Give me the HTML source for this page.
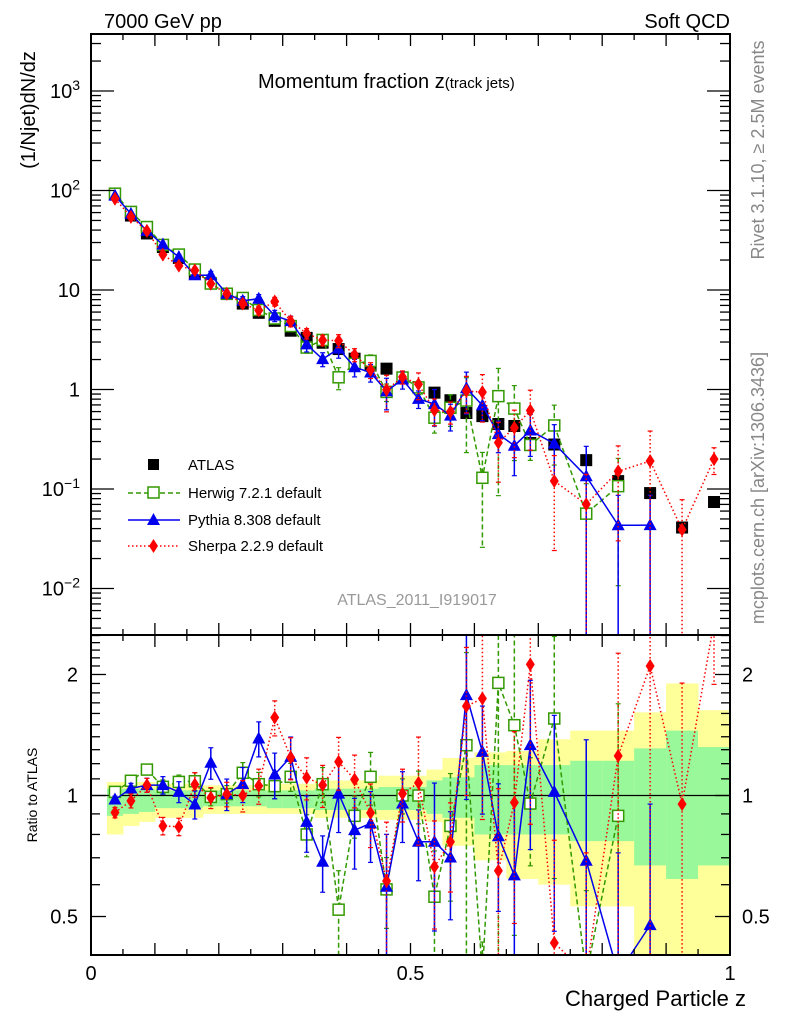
<!DOCTYPE html>
<html><head><meta charset="utf-8"><style>
html,body{margin:0;padding:0;background:#fff;width:786px;height:1024px;overflow:hidden;}
svg{display:block;font-family:"Liberation Sans",sans-serif;}
</style></head><body>
<svg id="chart" width="786" height="1024" viewBox="0 0 786 1024" xmlns="http://www.w3.org/2000/svg">
<defs>
<clipPath id="cm"><rect x="91" y="34" width="639" height="601"/></clipPath>
<clipPath id="cr"><rect x="91" y="635" width="639" height="320"/></clipPath>
</defs>
<g id="bands" clip-path="url(#cr)"></g>
<g id="mainmarks" clip-path="url(#cm)"></g>
<g id="ratiomarks" clip-path="url(#cr)"></g>
<g id="axes"></g>
<text x="104" y="28" font-size="20">7000 GeV pp</text>
<text x="730" y="28" font-size="20" text-anchor="end">Soft QCD</text>
<text x="258" y="88" font-size="20">Momentum fraction z<tspan font-size="15">(track jets)</tspan></text>
<text transform="translate(35,110) rotate(-90)" font-size="20" text-anchor="middle">(1/Njet)dN/dz</text>
<text transform="translate(37,795) rotate(-90)" font-size="14" text-anchor="middle">Ratio to ATLAS</text>
<text x="746" y="1006" font-size="22" text-anchor="end">Charged Particle z</text>
<text transform="translate(764,150) rotate(-90)" font-size="18" fill="#888" text-anchor="middle">Rivet 3.1.10, ≥ 2.5M events</text>
<text transform="translate(764,488) rotate(-90)" font-size="18" fill="#888" text-anchor="middle">mcplots.cern.ch [arXiv:1306.3436]</text>
<text x="417" y="605" font-size="16" fill="#999" text-anchor="middle">ATLAS_2011_I919017</text>
<g id="legend">
<rect x="148" y="459" width="11" height="11" fill="#000"/>
<text x="188" y="470" font-size="15">ATLAS</text>
<line x1="128" y1="493" x2="180" y2="493" stroke="#339900" stroke-width="1.5" stroke-dasharray="5,3"/>
<rect x="148" y="487" width="11" height="11" fill="#fff" stroke="#339900" stroke-width="1.5"/>
<text x="188" y="498" font-size="15">Herwig 7.2.1 default</text>
<line x1="128" y1="520" x2="180" y2="520" stroke="#0000ee" stroke-width="1.5"/>
<polygon points="153.5,513 160,525 147,525" fill="#0000ee"/>
<text x="188" y="525" font-size="15">Pythia 8.308 default</text>
<line x1="128" y1="546" x2="180" y2="546" stroke="#ff0000" stroke-width="1.5" stroke-dasharray="1.5,2.5"/>
<polygon points="153.5,539 158,546 153.5,553 149,546" fill="#ff0000"/>
<text x="188" y="551" font-size="15">Sherpa 2.2.9 default</text>
</g>
</svg>
<script>
const binCenters=[0.0375,0.0625,0.0875,0.1125,0.1375,0.1625,0.1875,0.2125,0.2375,0.2625,0.2875,0.3125,0.3375,0.3625,0.3875,0.4125,0.4375,0.4625,0.4875,0.5125,0.5375,0.5625,0.5875,0.6125,0.6375,0.6625,0.6875,0.725,0.775,0.825,0.875,0.925,0.975];
const binHalfWidths=[0.0125,0.0125,0.0125,0.0125,0.0125,0.0125,0.0125,0.0125,0.0125,0.0125,0.0125,0.0125,0.0125,0.0125,0.0125,0.0125,0.0125,0.0125,0.0125,0.0125,0.0125,0.0125,0.0125,0.0125,0.0125,0.0125,0.0125,0.025,0.025,0.025,0.025,0.025,0.025];
const atlasValues=[91,56,37,27,21,14.8,11.7,9.1,7.3,5.9,4.9,3.9,3.3,2.95,2.55,2.04,1.74,1.62,1.32,1.05,0.93,0.78,0.58,0.54,0.45,0.43,0.29,0.28,0.195,0.12,0.091,0.041,0.074];
const yellowUp=[1.08,1.08,1.08,1.07,1.07,1.07,1.06,1.06,1.06,1.06,1.07,1.07,1.07,1.09,1.09,1.09,1.09,1.12,1.12,1.12,1.16,1.24,1.24,1.28,1.28,1.29,1.29,1.38,1.45,1.45,1.61,1.9,1.63];
const yellowDn=[0.80,0.84,0.86,0.88,0.88,0.88,0.90,0.90,0.90,0.90,0.90,0.90,0.90,0.88,0.88,0.88,0.88,0.87,0.87,0.87,0.86,0.75,0.75,0.69,0.69,0.62,0.62,0.60,0.53,0.53,0.3,0.3,0.3];
const greenUp=[1.04,1.04,1.04,1.03,1.03,1.03,1.03,1.03,1.03,1.03,1.03,1.03,1.03,1.04,1.04,1.04,1.04,1.05,1.05,1.05,1.09,1.11,1.11,1.19,1.19,1.19,1.19,1.19,1.22,1.22,1.31,1.45,1.32];
const greenDn=[0.89,0.90,0.91,0.93,0.93,0.93,0.94,0.94,0.94,0.94,0.93,0.93,0.93,0.92,0.92,0.92,0.92,0.92,0.92,0.92,0.90,0.88,0.88,0.80,0.80,0.80,0.80,0.80,0.77,0.77,0.67,0.62,0.67];
const herwigRatio=[1.021,1.088,1.16,1.051,1.081,1.085,0.992,1.008,1.139,1.067,1.055,1.113,0.80,1.067,0.52,0.89,1.113,0.584,1.0,1.0,0.56,0.84,1.334,0.24,1.906,1.496,0.955,1.554,0.29,0.89,null,null,null];
const pythiaRatio=[0.977,1.041,1.061,1.061,1.021,0.950,1.206,1.008,1.067,1.386,1.128,1.248,0.860,0.684,1.011,0.820,0.852,0.593,0.955,0.767,0.767,0.701,1.777,1.284,0.792,0.633,1.334,1.021,0.688,0.36,0.476,null,null];
const sherpaRatio=[0.907,0.970,1.061,0.840,0.836,1.065,0.987,1.008,1.0,1.057,1.563,1.243,1.108,1.061,1.213,1.096,0.905,0.613,1.011,1.075,0.665,0.767,1.668,1.743,0.65,0.961,2.12,0.43,0.36,1.255,2.1,0.952,2.7];
const herwigErr=[0.02,0.03,0.03,0.04,0.04,0.05,0.05,0.05,0.06,0.07,0.07,0.08,0.12,0.1,0.25,0.12,0.15,0.2,0.1,0.15,0.3,0.35,0.7,0.8,0.9,0.7,0.3,0.6,1,0.9,0,0,0];
const pythiaErr=[0.02,0.03,0.04,0.05,0.06,0.08,0.09,0.09,0.1,0.1,0.13,0.12,0.16,0.16,0.2,0.2,0.2,0.35,0.2,0.2,0.4,0.3,0.45,0.3,0.35,0.5,0.45,0.55,1,1,1,0,0];
const sherpaErr=[0.03,0.04,0.04,0.05,0.05,0.07,0.06,0.07,0.09,0.1,0.1,0.12,0.12,0.12,0.15,0.15,0.18,0.4,0.15,0.3,0.3,0.25,0.4,0.5,0.6,0.5,0.6,0.8,1,0.8,1,1,0.3];
const mainTickLabels=["10⁻²","10⁻¹","1","10","10²","10³"];
const ratioTickLabels=["0.5","1","2"];
const xTickLabels=["0","0.5","1"];

const NS="http://www.w3.org/2000/svg";
const X0=91,X1=730,MT=34,MB=635,RB=955;
function xs(z){return X0+z*(X1-X0);}
function ym(v){return 389.5-99.5*Math.log10(v);}
function yr(r){return 795.5-402*Math.log10(r);}
function mk(parent,tag,attrs){const e=document.createElementNS(NS,tag);for(const k in attrs)e.setAttribute(k,attrs[k]);parent.appendChild(e);return e;}
const axes=document.getElementById('axes');
const bands=document.getElementById('bands');
const mm=document.getElementById('mainmarks');
const rm=document.getElementById('ratiomarks');

for(let i=0;i<binCenters.length;i++){
  const xa=xs(binCenters[i]-binHalfWidths[i]),xb=xs(binCenters[i]+binHalfWidths[i]);
  const yu=yr(yellowUp[i]),yd=Math.min(RB,yr(yellowDn[i]));
  let e=mk(bands,'rect',{x:xa,y:yu,width:xb-xa+0.5,height:yd-yu,fill:'#ffff99'});
  
  
  e=mk(bands,'rect',{x:xa,y:yr(greenUp[i]),width:xb-xa+0.5,height:yr(greenDn[i])-yr(greenUp[i]),fill:'#99f899'});
  
  
}
let ref=mk(rm,'line',{x1:X0,x2:X1,y1:yr(1),y2:yr(1),stroke:'#000','stroke-width':1.2});



function marker(g,type,x,y,color){
  let e;
  if(type==='sq') e=mk(g,'rect',{x:x-5.5,y:y-5.5,width:11,height:11,fill:'#fff',stroke:color,'stroke-width':1.5});
  else if(type==='tri') e=mk(g,'polygon',{points:`${x},${y-7} ${x+6.5},${y+5} ${x-6.5},${y+5}`,fill:color});
  else if(type==='dia') e=mk(g,'polygon',{points:`${x},${y-7} ${x+4.5},${y} ${x},${y+7} ${x-4.5},${y}`,fill:color});
  else e=mk(g,'rect',{x:x-6,y:y-6,width:12,height:12,fill:'#000'});
  return e;
}
function series(name,ratios,errs,type,color,dash){
  [[mm,true],[rm,false]].forEach(([g,isMain])=>{
    const yf=isMain?(i,r)=>ym(r*atlasValues[i]):(i,r)=>yr(r);
    const bottom=isMain?MB:RB;
    const pts=[];
    for(let i=0;i<ratios.length;i++){ if(ratios[i]==null) continue; pts.push([xs(binCenters[i]),Math.min(bottom+20,yf(i,ratios[i]))]); }
    const pl=mk(g,'polyline',{points:pts.map(p=>p.join(',')).join(' '),fill:'none',stroke:color,'stroke-width':1.5,'stroke-dasharray':dash});
    
    
    for(let i=0;i<ratios.length;i++){
      if(ratios[i]==null) continue;
      const x=xs(binCenters[i]),r=ratios[i],e=errs[i];
      const yt=yf(i,r*(1+e)); const lo=r*(1-e);
      let yb=lo>0.001?yf(i,lo):bottom; const capB=yb<bottom; if(yb>bottom) yb=bottom;
      const eb=mk(g,'line',{x1:x,x2:x,y1:yt,y2:yb,stroke:color,'stroke-width':1.5,'stroke-dasharray':dash});
      
      
      mk(g,'line',{x1:x-2.5,x2:x+2.5,y1:yt,y2:yt,stroke:color,'stroke-width':1.2});
      if(capB) mk(g,'line',{x1:x-2.5,x2:x+2.5,y1:yb,y2:yb,stroke:color,'stroke-width':1.2});
      const yc=yf(i,r);
      if(yc<bottom+10){
        const m=marker(g,type,x,yc,color);
        
        
      }
    }
  });
}
for(let i=0;i<atlasValues.length;i++){
  const m=marker(mm,'atlas',xs(binCenters[i]),ym(atlasValues[i]),'#000');
  
  
}
series('herwig',herwigRatio,herwigErr,'sq','#339900','5,3');
series('pythia',pythiaRatio,pythiaErr,'tri','#0000ee','none');
series('sherpa',sherpaRatio,sherpaErr,'dia','#ff0000','1.5,2.5');

[[MT,MB],[MB,RB]].forEach(([t,b])=>{
  const f=mk(axes,'rect',{x:X0,y:t,width:X1-X0,height:b-t,fill:'none',stroke:'#000','stroke-width':2});
  
  
});
for(let k=0;k<=20;k++){
  const x=xs(k*0.05),len=(k%2===0)?12:6;
  [[MT,1],[MB,-1],[MB,1],[RB,-1]].forEach(([y,d])=>mk(axes,'line',{x1:x,x2:x,y1:y,y2:y+d*len,stroke:'#000','stroke-width':1.3}));
}
xTickLabels.forEach((s,j)=>{const t=mk(axes,'text',{x:xs(j*0.5),y:980,'font-size':20,'text-anchor':'middle'});t.textContent=s;
  
  });
for(let d=-3;d<=3;d++){
  for(let m=1;m<=9;m++){
    const v=m*Math.pow(10,d),y=ym(v); if(y<MT||y>MB) continue;
    const len=m===1?23:10;
    mk(axes,'line',{x1:X0,x2:X0+len,y1:y,y2:y,stroke:'#000','stroke-width':1.3});
    mk(axes,'line',{x1:X1,x2:X1-len,y1:y,y2:y,stroke:'#000','stroke-width':1.3});
  }
}
mainTickLabels.forEach((s,j)=>{
  const y=ym(Math.pow(10,j-2));
  const t=mk(axes,'text',{x:80,y:y+7,'font-size':20,'text-anchor':'end'});
  const m=s.match(/^10(.*)$/);
  if(m&&m[1]){ t.textContent='10'; const ts=mk(t,'tspan',{dy:-8,'font-size':14}); ts.textContent=m[1].replace(/⁻/,'−').replace('¹','1').replace('²','2').replace('³','3'); }
  else t.textContent=s;
  
  
});
const rt=[0.4,0.5,0.6,0.7,0.8,0.9,1,1.1,1.2,1.3,1.4,1.5,1.6,1.7,1.8,1.9,2,2.1,2.2,2.3,2.4,2.5];
rt.forEach(r=>{const y=yr(r); if(y<MB||y>RB) return; const len=(r===0.5||r===1||r===2)?15:9;
  mk(axes,'line',{x1:X0,x2:X0+len,y1:y,y2:y,stroke:'#000','stroke-width':1.3});
  mk(axes,'line',{x1:X1,x2:X1-len,y1:y,y2:y,stroke:'#000','stroke-width':1.3});});
ratioTickLabels.forEach(s=>{const y=yr(parseFloat(s));
  let t=mk(axes,'text',{x:78,y:y+7,'font-size':20,'text-anchor':'end'});t.textContent=s;
  
  
  t=mk(axes,'text',{x:742,y:y+7,'font-size':20});t.textContent=s;
  
  });
</script>
</body></html>
